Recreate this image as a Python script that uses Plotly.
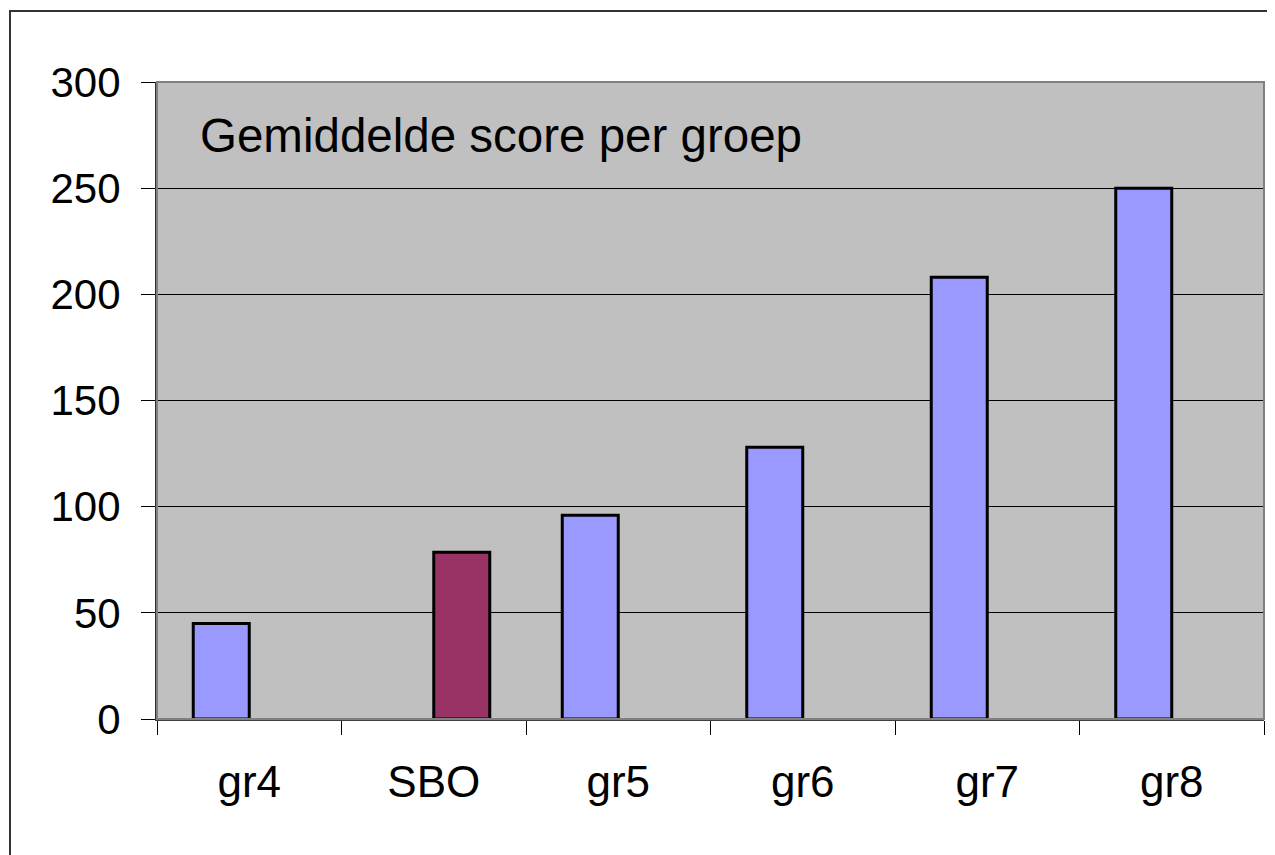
import plotly.graph_objects as go

categories = ["gr4", "SBO", "gr5", "gr6", "gr7", "gr8"]
groep_scores = [45, None, 96, 128, 208, 250]
sbo_scores = [None, 78.5, None, None, None, None]
y_ticks = [0, 50, 100, 150, 200, 250, 300]
title_text = "Gemiddelde score per groep"

# page body has an 8px margin; work in figure coordinates
OFF = 8
W, H = 1275 - OFF, 855 - OFF
L, R, T, B = 157 - OFF, 1264 - OFF, 82 - OFF, 719 - OFF

fig = go.Figure()
fig.add_trace(go.Bar(x=categories, y=groep_scores, marker=dict(color="#9999FF", line=dict(color="black", width=3)), name="groep"))
fig.add_trace(go.Bar(x=categories, y=sbo_scores, marker=dict(color="#993366", line=dict(color="black", width=3)), name="SBO"))

font = "Liberation Sans, Arial, sans-serif"
fig.update_layout(
    width=W, height=H,
    margin=dict(l=L, r=W - R, t=T, b=H - B, pad=0),
    paper_bgcolor="white", plot_bgcolor="#C0C0C0",
    barmode="group", bargap=0.393, bargroupgap=0,
    showlegend=False,
    font=dict(family=font, color="black", size=43),
)
fig.update_xaxes(
    type="category", tickson="boundaries", ticks="outside", ticklen=14, tickwidth=1, tickcolor="black",
    showgrid=False, showline=True, linecolor="#404040", linewidth=2,
    tickfont=dict(family=font, size=44, color="black"), ticklabelstandoff=23,
)
fig.update_yaxes(
    range=[0, 300], tickvals=y_ticks, ticks="outside", ticklen=14, tickwidth=1, tickcolor="black",
    showgrid=True, gridcolor="black", gridwidth=1, zeroline=False,
    showline=True, linecolor="#303030", linewidth=2,
    tickfont=dict(family=font, size=42, color="black"), ticklabelstandoff=12,
)
# plot area border
fig.add_shape(type="rect", xref="paper", yref="paper", x0=0, x1=1, y0=0, y1=1,
              line=dict(color="#808080", width=2), fillcolor="rgba(0,0,0,0)", layer="above")
# outer chart frame (partially clipped by figure edges)
fig.add_shape(type="rect", xref="paper", yref="paper",
              x0=(10 - OFF - L) / (R - L), x1=(1320 - L) / (R - L),
              y0=(B - 900) / (B - T), y1=(B - (11 - OFF)) / (B - T),
              line=dict(color="#333333", width=2), fillcolor="rgba(0,0,0,0)")
fig.add_annotation(text=title_text, xref="paper", yref="paper",
                   x=(198 - OFF - L) / (R - L), y=(B - (135 - OFF)) / (B - T), xanchor="left", yanchor="middle",
                   showarrow=False, font=dict(family=font, size=47.5, color="black"))

fig.write_html("out.html")
